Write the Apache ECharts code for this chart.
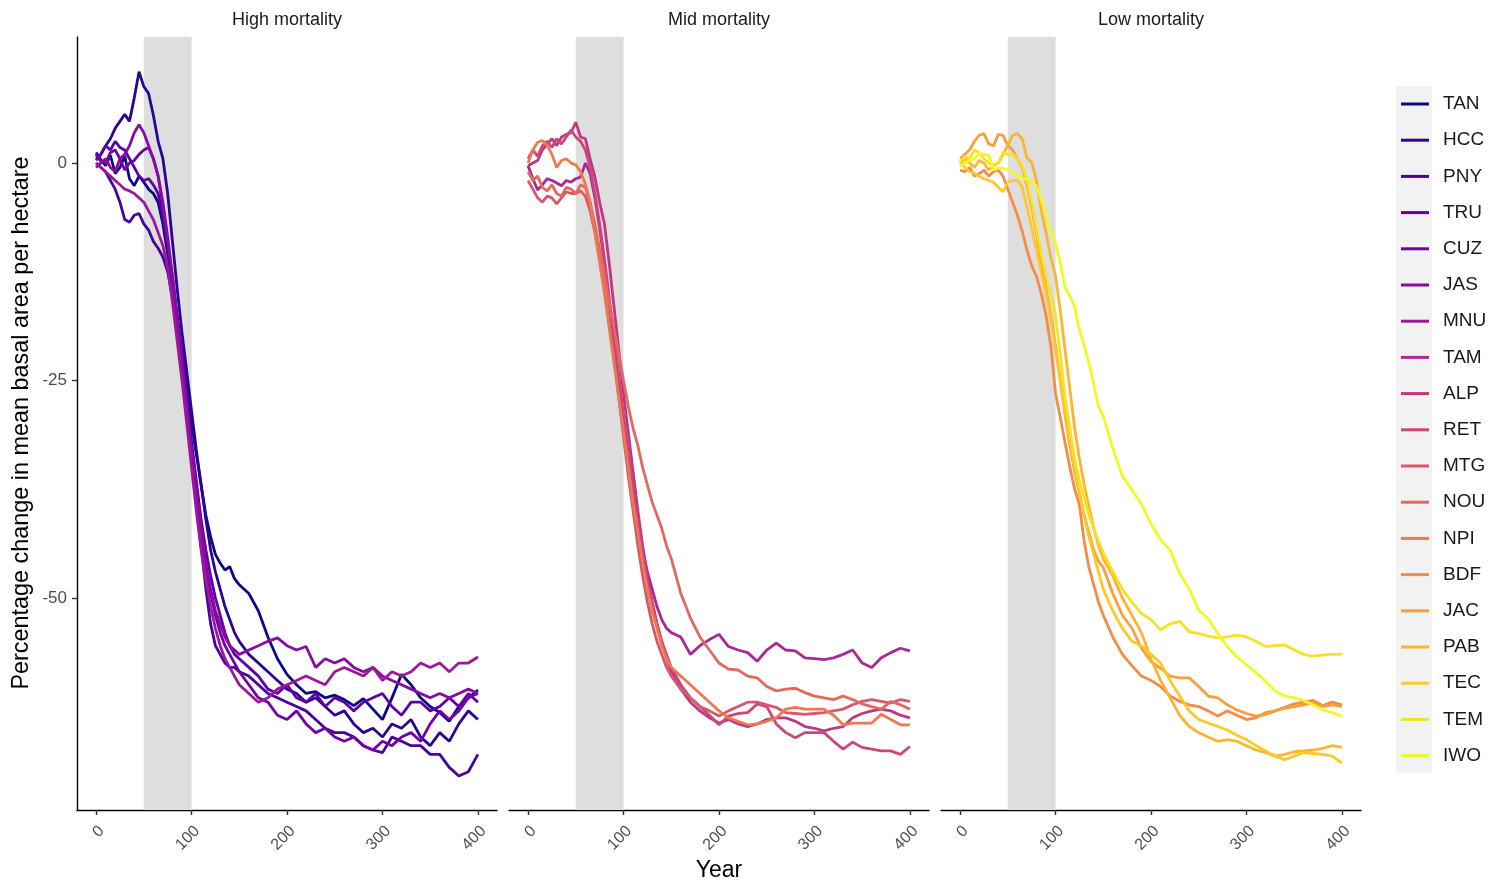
<!DOCTYPE html>
<html><head><meta charset="utf-8">
<script src="https://cdn.jsdelivr.net/npm/echarts@6/dist/echarts.min.js"></script>
<style>html,body{margin:0;padding:0;background:#fff}#c{width:1488px;height:884px}</style>
</head><body><div id="c"></div>
<script>
const years = [0,5,10,15,20,25,30,35,40,45,50,55,60,65,70,75,80,85,90,95,100,105,110,115,120,125,130,135,140,145,150,
  160,170,180,190,200,210,220,230,240,250,260,270,280,290,300,310,320,330,340,350,360,370,380,390,400];
const panelTitles = ['High mortality','Mid mortality','Low mortality'];
const sites = ['TAN','HCC','PNY','TRU','CUZ','JAS','MNU','TAM','ALP','RET','MTG','NOU','NPI','BDF','JAC','PAB','TEC','TEM','IWO'];
const sitePanel = [0,0,0,0,0,0,0,1,1,1,1,1,1,2,2,2,2,2,2];
const siteColors = ['#0D0887','#2A0693','#47039F','#5D02A4','#7301A8','#880CA3','#9C179E','#AD2792','#BD3786','#CB4779',
  '#D8576B','#E3685F','#ED7953','#F48C47','#FA9E3B','#FCB431','#FDC926','#F7E124','#F0F921'];
const yTicks = [-50,-25,0];
const xTicks = [0,100,200,300,400];
const band = [50,100];

const TAN = [1.2,0.4,-0.3,0.9,-1.2,-0.5,0.8,-1.8,-2.6,-1.5,-2.2,-3.0,-3.5,
 -4.5,-7.0,-10.5,-14.0,-18.0,-22.0,-26.0,-30.0,-33.5,-37.0,-40.5,-43.0,-45.0,-46.0,-46.8,-46.4,-47.8,-48.5,
 -49.5,-51.5,-54.5,-57.0,-58.8,-60.0,-61.0,-60.8,-61.5,-61.2,-61.7,-62.4,-61.6,-62.8,-64.0,-61.5,-58.8,-60.0,-61.5,-62.5,-63.2,-64.2,-62.5,-61.5,-60.6];
const HCC = [0.5,1.0,2.0,2.8,4.0,4.8,5.6,4.8,7.5,10.5,8.8,8.0,5.5,
 2.5,0.5,-3.5,-9.0,-14.5,-19.5,-24.0,-28.5,-33.0,-37.0,-41.0,-44.5,-47.0,-49.0,-51.0,-52.5,-54.0,-55.0,
 -56.5,-57.5,-58.5,-59.5,-60.5,-61.0,-62.0,-61.5,-62.5,-63.5,-63.0,-64.5,-65.5,-65.0,-66.0,-64.5,-65.0,-64.0,-66.0,-67.0,-65.5,-66.5,-64.5,-63.0,-64.0];
const PNY = [0.0,-0.5,-1.0,-2.0,-3.0,-4.5,-6.5,-6.8,-6.0,-5.8,-7.0,-7.7,-9.0,
 -9.8,-10.8,-12.5,-15.5,-19.5,-23.5,-28.0,-33.0,-38.5,-44.0,-49.0,-53.0,-55.5,-56.5,-57.5,-58.0,-58.0,-58.5,
 -59.0,-60.0,-61.0,-61.5,-62.0,-62.5,-63.0,-64.0,-65.0,-65.5,-65.5,-66.0,-67.0,-67.5,-67.8,-66.0,-66.5,-67.0,-67.0,-68.0,-68.0,-69.5,-70.5,-70.0,-68.0];
const TRU = [0.3,1.0,2.0,1.5,2.5,1.8,1.5,0.5,-0.5,-1.5,-2.0,-1.8,-2.5,
 -3.5,-6.0,-9.5,-13.0,-17.5,-22.0,-27.0,-32.0,-36.5,-41.0,-44.5,-47.5,-50.0,-52.0,-54.0,-55.5,-56.5,-57.0,
 -58.0,-59.0,-60.5,-61.0,-60.0,-61.5,-62.0,-61.0,-62.5,-61.5,-62.0,-63.0,-62.0,-61.5,-61.0,-62.5,-63.5,-62.0,-62.0,-63.0,-62.5,-61.5,-62.5,-61.0,-62.0];
const CUZ = [1.0,0.2,0.0,1.2,1.5,0.5,-0.8,0.0,0.3,1.0,1.5,1.8,0.5,
 -1.5,-5.0,-9.0,-13.5,-18.5,-23.5,-28.5,-33.5,-38.0,-42.5,-46.5,-49.5,-52.0,-54.0,-55.5,-56.5,-57.5,-58.5,
 -60.0,-61.5,-62.0,-63.5,-64.0,-63.0,-64.5,-65.5,-65.0,-66.0,-66.5,-66.0,-67.0,-67.5,-66.5,-67.0,-66.0,-65.5,-66.5,-64.5,-63.0,-64.0,-63.0,-61.5,-61.0];
const JAS = [-0.5,0.0,0.5,-0.5,-1.0,0.5,1.0,2.0,3.5,4.4,3.5,2.0,0.5,
 -1.5,-4.5,-8.5,-13.0,-18.0,-23.0,-28.0,-33.0,-37.5,-42.0,-46.0,-49.0,-51.5,-53.0,-54.5,-55.5,-56.0,-56.5,
 -56.0,-55.5,-55.0,-54.6,-55.5,-56.0,-55.6,-58.0,-57.0,-57.5,-57.0,-58.0,-58.5,-58.0,-59.0,-59.5,-60.0,-60.5,-61.0,-61.5,-61.0,-61.5,-61.0,-60.5,-61.0];
const MNU = [0.0,-0.5,-1.0,-1.5,-2.0,-2.5,-3.0,-3.2,-3.5,-4.0,-4.5,-5.5,-6.5,
 -8.0,-9.5,-12.0,-16.0,-20.5,-25.0,-30.0,-35.0,-40.0,-44.5,-48.0,-51.0,-53.5,-55.5,-57.0,-58.0,-59.0,-60.0,
 -61.0,-62.0,-61.5,-60.5,-60.0,-59.5,-59.0,-59.5,-60.0,-58.5,-58.0,-58.5,-59.0,-58.0,-59.5,-58.5,-59.0,-58.5,-57.5,-58.0,-57.5,-58.5,-57.5,-57.5,-56.8];
const TAM = [-0.3,-1.8,-3.1,-2.5,-1.8,-2.0,-2.3,-2.6,-2.0,-2.2,-1.8,-1.6,0.0,
 -1.2,-4.0,-7.5,-11.5,-16.0,-20.5,-25.0,-29.5,-34.0,-38.0,-41.5,-44.5,-47.0,-49.0,-51.0,-52.5,-53.5,-54.0,
 -54.5,-56.5,-55.5,-54.8,-54.2,-55.6,-56.0,-56.3,-57.3,-56.0,-55.2,-56.0,-56.1,-56.9,-57.0,-57.1,-56.9,-56.5,-56.0,-57.5,-58.0,-56.9,-56.3,-55.8,-56.1];
const ALP = [-0.3,0.0,0.3,1.5,2.2,2.8,2.0,3.0,3.3,3.5,4.7,3.0,2.8,
 0.5,-1.6,-4.5,-7.0,-11.5,-16.5,-21.5,-26.5,-31.0,-35.5,-40.0,-44.0,-47.5,-50.5,-53.0,-55.0,-57.0,-58.5,
 -60.5,-62.0,-63.0,-63.8,-64.4,-64.0,-64.5,-64.8,-64.5,-64.0,-63.8,-63.8,-64.2,-64.8,-65.0,-65.3,-65.0,-64.8,-63.8,-63.3,-63.0,-62.8,-63.0,-63.5,-63.8];
const RET = [0.5,1.5,0.8,2.0,2.5,1.8,2.8,2.2,3.0,3.8,3.0,2.5,1.5,
 -0.5,-3.5,-7.0,-11.0,-15.5,-20.0,-24.5,-29.0,-33.5,-37.5,-41.5,-45.0,-48.0,-50.5,-53.0,-55.0,-56.5,-58.0,
 -60.0,-61.5,-62.5,-63.5,-64.6,-63.6,-63.3,-63.2,-62.2,-62.5,-64.5,-65.5,-66.1,-65.5,-65.5,-65.5,-66.5,-67.4,-66.6,-67.2,-67.4,-67.6,-67.6,-68.0,-67.1];
const MTG = [-2.0,-3.0,-4.0,-4.5,-3.8,-4.0,-4.7,-4.0,-3.3,-3.5,-3.5,-3.2,-3.8,
 -5.5,-8.0,-11.0,-14.5,-18.5,-22.5,-27.0,-31.5,-36.0,-40.0,-44.0,-47.5,-50.5,-53.0,-55.0,-56.5,-58.0,-59.0,
 -60.5,-61.5,-62.5,-63.0,-63.6,-63.0,-62.5,-62.0,-62.0,-62.3,-62.6,-63.2,-63.3,-63.4,-63.3,-63.2,-63.0,-62.8,-62.3,-61.9,-61.7,-61.9,-62.1,-61.7,-61.9];
const NOU = [-1.0,-2.0,-1.5,-2.8,-3.2,-2.5,-3.5,-3.8,-2.8,-3.0,-3.5,-2.5,-2.8,
 -4.5,-7.0,-10.0,-13.0,-16.0,-19.0,-22.0,-25.0,-28.0,-30.5,-32.5,-35.0,-37.0,-39.0,-40.5,-42.0,-44.0,-45.5,
 -49.5,-52.3,-54.5,-56.0,-57.5,-58.2,-58.3,-59.0,-59.2,-60.2,-60.7,-60.5,-60.4,-60.9,-61.3,-61.5,-61.7,-61.3,-61.7,-62.2,-62.5,-62.8,-61.9,-62.3,-62.8];
const NPI = [0.0,1.5,2.4,2.6,2.0,1.0,-0.5,0.3,0.5,0.0,-0.2,-1.0,-2.4,
 -4.5,-8.0,-11.5,-15.0,-19.0,-23.0,-27.0,-31.0,-35.0,-39.0,-42.5,-46.0,-49.0,-51.5,-53.5,-55.5,-57.0,-58.0,
 -59.0,-60.0,-61.0,-62.0,-63.0,-63.8,-64.2,-64.6,-64.5,-64.2,-63.8,-62.8,-62.6,-62.8,-62.8,-62.8,-63.5,-64.6,-64.4,-64.4,-64.4,-63.4,-64.0,-64.6,-64.6];
const BDF = [-0.8,-1.0,-0.5,-1.5,-1.2,-0.8,-1.5,-1.0,-0.8,-1.5,-3.0,-4.5,-6.0,
 -7.8,-10.0,-11.8,-13.0,-15.0,-17.5,-21.0,-26.5,-29.3,-32.2,-35.0,-37.5,-39.3,-43.5,-46.5,-48.5,-50.5,-52.0,
 -54.5,-56.5,-57.8,-59.0,-59.5,-60.2,-61.3,-61.9,-62.3,-62.5,-63.0,-63.6,-63.0,-63.5,-64.0,-63.8,-63.2,-63.0,-62.6,-62.2,-62.0,-61.8,-62.4,-62.0,-62.3];
const JAC = [0.5,1.0,1.5,2.5,3.2,3.4,2.2,2.0,3.3,3.2,2.0,1.5,0.5,
 -0.5,-2.5,-5.0,-8.0,-11.5,-14.5,-17.5,-21.0,-25.0,-29.0,-32.5,-35.5,-38.0,-40.5,-42.5,-44.5,-45.8,-46.5,
 -49.5,-52.0,-53.5,-55.8,-57.3,-58.1,-59.0,-59.2,-59.2,-60.2,-61.3,-61.5,-62.3,-62.9,-63.3,-63.6,-63.4,-63.0,-62.7,-62.5,-62.3,-62.1,-62.5,-62.3,-62.5];
const PAB = [-0.1,0.5,0.0,-0.5,0.3,0.0,-0.8,-0.3,0.0,1.0,2.0,3.2,3.4,
 2.8,0.6,0.1,-2.0,-5.4,-8.0,-10.8,-13.0,-17.0,-21.5,-26.0,-30.5,-34.0,-37.0,-39.5,-42.0,-44.0,-45.5,
 -47.5,-50.0,-52.0,-54.0,-57.0,-59.5,-61.5,-63.5,-64.8,-65.5,-66.0,-66.5,-66.3,-66.5,-67.0,-67.5,-67.8,-68.2,-68.0,-67.7,-67.6,-67.5,-67.3,-67.0,-67.2];
const TEC = [0.3,-0.5,-1.0,-1.2,-1.5,-1.8,-2.0,-2.2,-2.8,-3.3,-2.2,-2.0,-2.0,
 -2.7,-5.0,-7.5,-10.0,-12.5,-15.0,-18.0,-21.5,-25.0,-28.5,-32.0,-35.0,-38.0,-40.5,-43.0,-45.0,-47.0,-49.0,
 -51.5,-53.5,-55.0,-55.5,-56.5,-57.5,-59.5,-61.3,-63.0,-64.0,-64.4,-64.8,-65.2,-65.8,-66.3,-67.0,-67.6,-68.2,-68.6,-68.2,-67.8,-67.9,-68.0,-68.2,-69.0];
const TEM = [0.0,0.8,0.5,1.5,1.2,0.5,0.0,-0.2,0.0,1.2,1.0,1.0,0.5,
 -0.3,-2.0,-4.5,-7.5,-10.5,-13.0,-15.0,-17.5,-22.0,-27.0,-30.5,-34.0,-36.5,-38.5,-40.5,-42.0,-43.5,-44.8,
 -47.0,-49.0,-50.5,-51.8,-52.5,-53.7,-53.0,-52.7,-53.9,-54.1,-54.4,-54.6,-54.5,-54.3,-54.5,-55.0,-55.6,-55.5,-55.4,-56.0,-56.5,-56.7,-56.6,-56.5,-56.5];
const IWO = [-0.4,0.0,0.3,0.5,1.1,1.0,0.9,-0.8,-0.6,-0.6,-0.8,-1.0,-1.5,
 -1.7,-1.9,-2.1,-2.7,-4.2,-6.0,-7.8,-9.2,-11.5,-14.3,-15.3,-16.5,-19.2,-21.0,-23.0,-25.5,-28.0,-29.1,
 -32.8,-36.0,-37.6,-39.2,-41.5,-43.3,-44.5,-47.2,-49.0,-51.4,-52.4,-54.1,-55.6,-56.8,-57.7,-58.6,-59.6,-60.7,-61.3,-61.5,-61.8,-62.3,-62.9,-63.2,-63.6];

const siteValues = [TAN,HCC,PNY,TRU,CUZ,JAS,MNU,TAM,ALP,RET,MTG,NOU,NPI,BDF,JAC,PAB,TEC,TEM,IWO];

const FONT = '"Liberation Sans", Arial, sans-serif';
const chart = echarts.init(document.getElementById('c'), null, {renderer: 'canvas'});

const PANEL_LEFT = 77, PANEL_W = 420, PANEL_GAP = 12, PANEL_TOP = 37, PANEL_H = 773;
const grids = [], xAxes = [], yAxes = [], series = [];
for (let p = 0; p < 3; p++) {
  grids.push({left: PANEL_LEFT + p * (PANEL_W + PANEL_GAP), top: PANEL_TOP, width: PANEL_W, height: PANEL_H, containLabel: false});
  xAxes.push({
    type: 'value', gridIndex: p, min: -20, max: 420,
    axisLine: {show: true, onZero: false, lineStyle: {color: '#000', width: 1.4}},
    axisTick: {show: true, length: 5, customValues: xTicks, lineStyle: {color: '#333', width: 1.4}},
    axisLabel: {customValues: xTicks, rotate: 45, align: 'right', verticalAlign: 'top',
      color: '#4d4d4d', fontSize: 16, fontFamily: FONT, margin: 13},
    splitLine: {show: false}
  });
  yAxes.push({
    type: 'value', gridIndex: p, min: -74.4, max: 14.5,
    axisLine: {show: p === 0, onZero: false, lineStyle: {color: '#000', width: 1.4}},
    axisTick: {show: p === 0, length: 5, customValues: yTicks, lineStyle: {color: '#333', width: 1.4}},
    axisLabel: {show: p === 0, customValues: yTicks, color: '#4d4d4d', fontSize: 17, fontFamily: FONT, margin: 10},
    splitLine: {show: false}
  });
  series.push({
    type: 'line', name: 'band' + p, xAxisIndex: p, yAxisIndex: p,
    data: [[band[0], 0]], symbol: 'none', lineStyle: {opacity: 0}, silent: true, z: 1,
    markArea: {silent: true, itemStyle: {color: '#dedede'}, data: [[{xAxis: band[0]}, {xAxis: band[1]}]]}
  });
}
sites.forEach((s, i) => {
  const p = sitePanel[i];
  series.push({
    type: 'line', name: s, xAxisIndex: p, yAxisIndex: p,
    data: years.map((yr, k) => [yr, siteValues[i][k]]),
    symbol: 'none', showSymbol: false, smooth: false, silent: true, z: 3,
    lineStyle: {width: 2.8, color: siteColors[i]}, itemStyle: {color: siteColors[i]}
  });
});

const graphics = [
  {type: 'rect', shape: {x: 1396, y: 86, width: 36, height: 687}, style: {fill: '#f2f2f2'}, z: -10},
  {type: 'text', x: 22, y: 423, rotation: Math.PI / 2,
   style: {text: 'Percentage change in mean basal area per hectare', fill: '#000', font: '23.4px ' + FONT, align: 'center', verticalAlign: 'middle'}},
  {type: 'text', x: 719, y: 871,
   style: {text: 'Year', fill: '#000', font: '23px ' + FONT, align: 'center', verticalAlign: 'middle'}}
];
panelTitles.forEach((t, p) => {
  graphics.push({type: 'text', x: PANEL_LEFT + p * (PANEL_W + PANEL_GAP) + PANEL_W / 2, y: 20,
    style: {text: t, fill: '#1a1a1a', font: '18px ' + FONT, align: 'center', verticalAlign: 'middle'}});
});

chart.setOption({
  animation: false,
  backgroundColor: '#fff',
  grid: grids, xAxis: xAxes, yAxis: yAxes, series: series,
  graphic: graphics,
  legend: {
    data: sites, orient: 'vertical', left: 1401, top: 94, padding: 0,
    itemWidth: 28, itemHeight: 3, itemGap: 16.2, icon: 'rect', selectedMode: false, z: 5,
    textStyle: {fontSize: 19, fontFamily: FONT, color: '#1a1a1a', lineHeight: 20, padding: [0, 0, 0, 9]}
  }
});
</script></body></html>
